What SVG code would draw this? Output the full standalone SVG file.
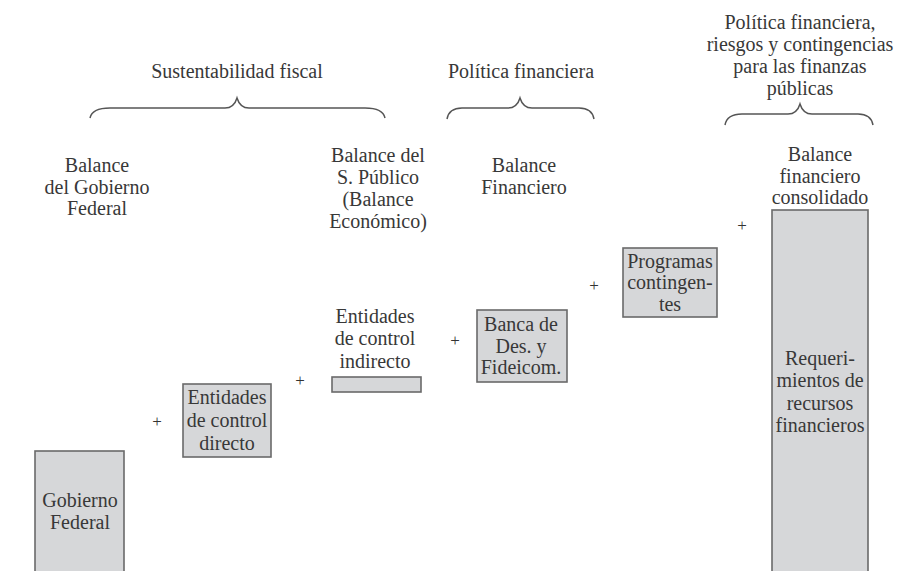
<svg xmlns="http://www.w3.org/2000/svg" width="898" height="571" viewBox="0 0 898 571">
<style>
text{font-family:"Liberation Serif","Times New Roman",serif;font-size:20px;fill:#383838;text-anchor:middle}
.box{fill:#d6d7d9;stroke:#6a6a6a;stroke-width:1.6}
.brace{fill:none;stroke:#555;stroke-width:1.5}
.plus{font-size:17px;fill:#333}
</style>
<rect width="898" height="571" fill="#fff"/>
<g id="braces">
<path class="brace" d="M90,118 Q92,108 110,108 L225,108 Q234,108 237,98 Q240,108 249,108 L365,108 Q383,108 385,118"/>
<path class="brace" d="M447,119 Q449,108 462,108 L508,108 Q517,108 520,98 Q523,108 532,108 L579,108 Q592,108 594,119"/>
<path class="brace" d="M725,125 Q727,114 742,114 L788,114 Q797,114 800,104 Q803,114 812,114 L858,114 Q871,114 873,125"/>
</g>
<g id="titles">
<text x="237" y="78">Sustentabilidad fiscal</text>
<text x="521" y="78">Política financiera</text>
<text x="800" y="29">Política financiera,</text>
<text x="800" y="51">riesgos y contingencias</text>
<text x="800" y="73">para las finanzas</text>
<text x="800" y="95">públicas</text>
</g>
<g id="balance-gobierno-federal">
<text x="97" y="172">Balance</text>
<text x="97" y="194">del Gobierno</text>
<text x="97" y="215">Federal</text>
</g>
<g id="balance-sector-publico">
<text x="378" y="162">Balance del</text>
<text x="378" y="184">S. Público</text>
<text x="378" y="206">(Balance</text>
<text x="378" y="228">Económico)</text>
</g>
<g id="balance-financiero">
<text x="524" y="172">Balance</text>
<text x="524" y="194">Financiero</text>
</g>
<g id="balance-consolidado">
<text x="820" y="161">Balance</text>
<text x="820" y="183">financiero</text>
<text x="820" y="204">consolidado</text>
</g>
<g id="gobierno-federal">
<rect class="box" x="35" y="451" width="89" height="125"/>
<text x="80" y="507">Gobierno</text>
<text x="80" y="529">Federal</text>
</g>
<g id="entidades-control-directo">
<text class="plus" x="157" y="427">+</text>
<rect class="box" x="183" y="384" width="88" height="73"/>
<text x="227" y="404">Entidades</text>
<text x="227" y="427">de control</text>
<text x="227" y="450">directo</text>
</g>
<g id="entidades-control-indirecto">
<text class="plus" x="300" y="386">+</text>
<text x="375" y="323">Entidades</text>
<text x="375" y="345">de control</text>
<text x="375" y="368">indirecto</text>
<rect class="box" x="332" y="377" width="89" height="15"/>
</g>
<g id="banca-desarrollo">
<text class="plus" x="455" y="346">+</text>
<rect class="box" x="477" y="310" width="90" height="72"/>
<text x="521" y="331">Banca de</text>
<text x="521" y="353">Des. y</text>
<text x="521" y="374">Fideicom.</text>
</g>
<g id="programas-contingentes">
<text class="plus" x="594" y="291">+</text>
<rect class="box" x="623" y="248" width="94" height="69"/>
<text x="670" y="268">Programas</text>
<text x="670" y="289">contingen-</text>
<text x="670" y="311">tes</text>
</g>
<g id="requerimientos">
<text class="plus" x="742" y="231">+</text>
<rect class="box" x="772" y="210" width="96" height="366"/>
<text x="820" y="365">Requeri-</text>
<text x="820" y="387">mientos de</text>
<text x="820" y="410">recursos</text>
<text x="820" y="432">financieros</text>
</g>
</svg>
